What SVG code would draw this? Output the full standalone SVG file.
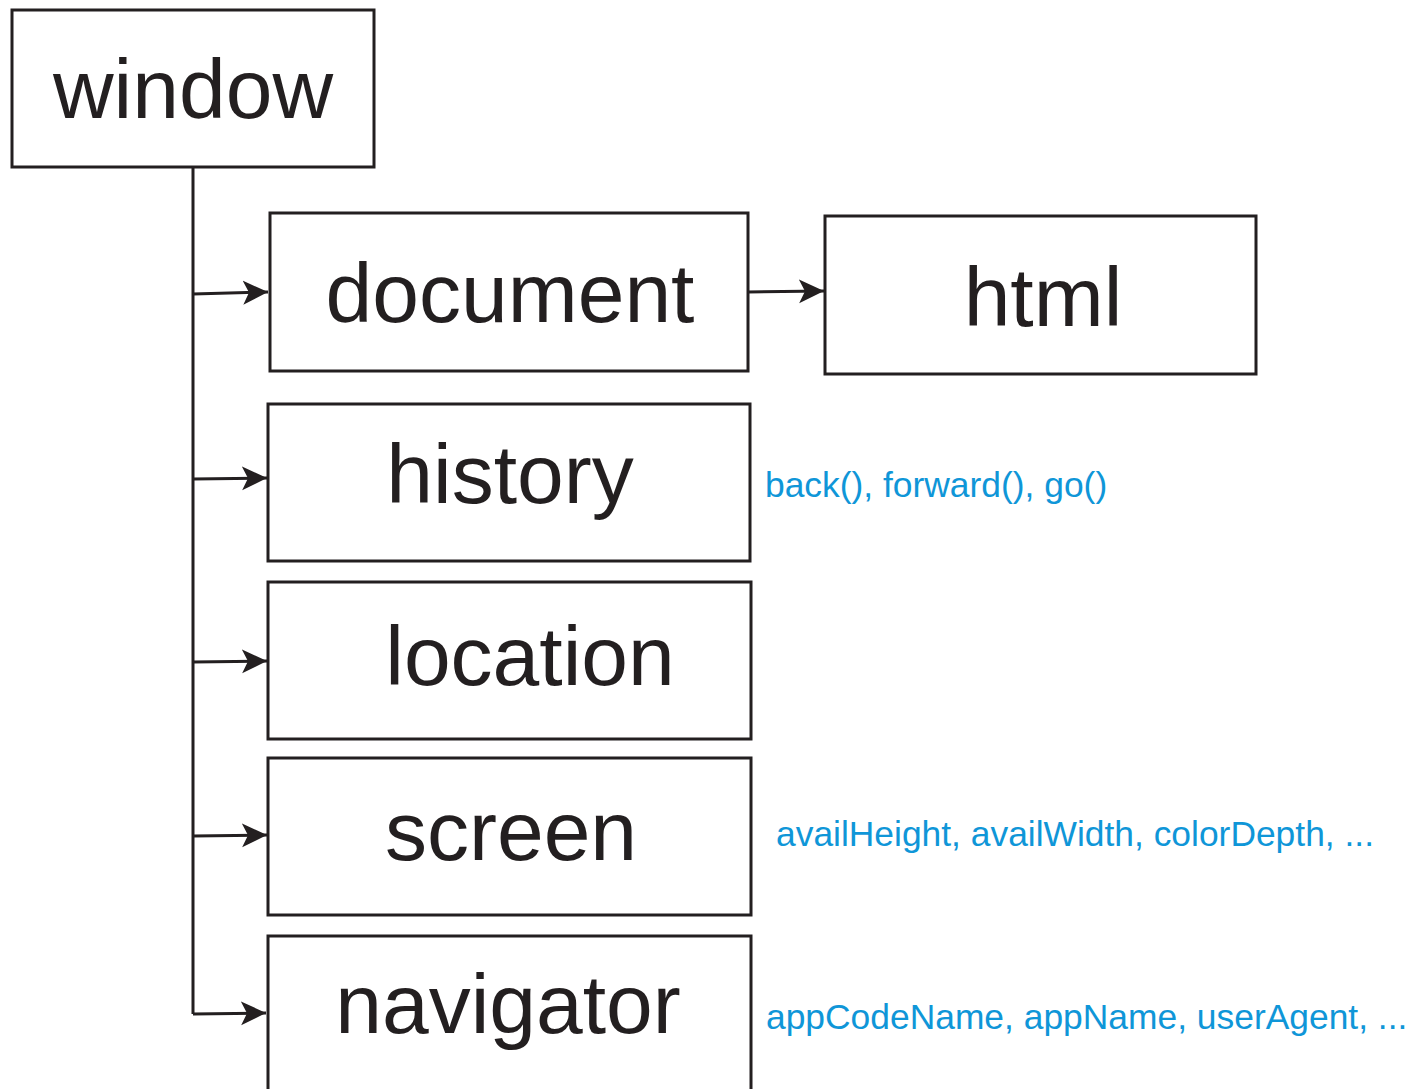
<svg xmlns="http://www.w3.org/2000/svg" width="1416" height="1089" viewBox="0 0 1416 1089">
  <style>
    .box { fill: #ffffff; stroke: #231f20; stroke-width: 3; }
    .label { font-family: "Liberation Sans", Arial, sans-serif; font-size: 84px; fill: #231f20; text-anchor: middle; }
    .note { font-family: "Liberation Sans", Arial, sans-serif; font-size: 35.4px; fill: #0f96d8; }
    .link { fill: none; stroke: #231f20; stroke-width: 3; }
  </style>
  <defs>
    <marker id="arrow" markerUnits="userSpaceOnUse" markerWidth="30" markerHeight="26" refX="25" refY="13" orient="auto">
      <path d="M0,1 L25,13 L0,25 L6,13 Z" fill="#231f20"/>
    </marker>
  </defs>
  <rect width="1416" height="1089" fill="#ffffff"/>

  <g id="connectors">
    <path class="link" d="M193,167 V1014"/>
    <path class="link" d="M193,294 L268,292" marker-end="url(#arrow)"/>
    <path class="link" d="M193,479 L267,478" marker-end="url(#arrow)"/>
    <path class="link" d="M193,662 L267,661" marker-end="url(#arrow)"/>
    <path class="link" d="M193,836 L267,835" marker-end="url(#arrow)"/>
    <path class="link" d="M193,1014 L266,1013" marker-end="url(#arrow)"/>
    <path class="link" d="M748,292 L824,291" marker-end="url(#arrow)"/>
  </g>

  <g id="window">
    <rect class="box" x="12" y="10" width="362" height="157"/>
    <text class="label" x="193" y="118">window</text>
  </g>
  <g id="document">
    <rect class="box" x="270" y="213" width="478" height="158"/>
    <text class="label" x="510" y="322">document</text>
  </g>
  <g id="html">
    <rect class="box" x="825" y="216" width="431" height="158"/>
    <text class="label" x="1043" y="326">html</text>
  </g>
  <g id="history">
    <rect class="box" x="268" y="404" width="482" height="157"/>
    <text class="label" x="510" y="503">history</text>
    <text class="note" x="765" y="497">back(), forward(), go()</text>
  </g>
  <g id="location">
    <rect class="box" x="268" y="582" width="483" height="157"/>
    <text class="label" x="530" y="685">location</text>
  </g>
  <g id="screen">
    <rect class="box" x="268" y="758" width="483" height="157"/>
    <text class="label" x="511" y="860">screen</text>
    <text class="note" x="776" y="846">availHeight, availWidth, colorDepth, ...</text>
  </g>
  <g id="navigator">
    <rect class="box" x="268" y="936" width="483" height="170"/>
    <text class="label" x="508" y="1033">navigator</text>
    <text class="note" x="766" y="1029">appCodeName, appName, userAgent, ...</text>
  </g>
</svg>
